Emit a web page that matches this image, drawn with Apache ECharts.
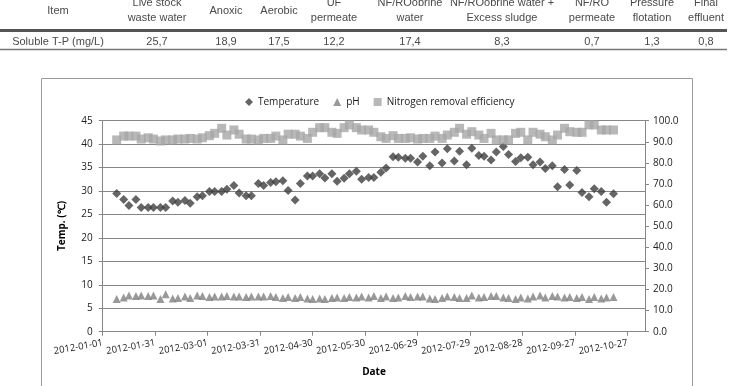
<!DOCTYPE html>
<html>
<head>
<meta charset="UTF-8" />
<title></title>
<script src="https://cdn.jsdelivr.net/npm/echarts@6/dist/echarts.min.js"></script>
<style>
  html, body { margin: 0; padding: 0; background: #fff; }
  #chart { width: 730px; height: 386px; }
</style>
</head>
<body>
<div id="chart"></div>
<script>
// table above the chart
var tableHeaders = [['Item'], ['Live stock', 'waste water'], ['Anoxic'], ['Aerobic'], ['UF', 'permeate'],
  ['NF/ROobrine', 'water'], ['NF/ROobrine water +', 'Excess sludge'], ['NF/RO', 'permeate'],
  ['Pressure', 'flotation'], ['Final', 'effluent']];
var tableRow = ['Soluble T-P (mg/L)', '25,7', '18,9', '17,5', '12,2', '17,4', '8,3', '0,7', '1,3', '0,8'];

// days after 2012-01-01
var sampleDay = [8, 12, 15, 19, 22, 26, 29, 33, 36, 40, 43, 47, 50, 54, 57, 61, 64, 68, 71, 75,
  78, 82, 85, 89, 92, 96, 99, 103, 106, 110, 113, 117, 120, 124, 127, 131, 134, 138, 141, 145,
  148, 152, 155, 159, 162, 166, 169, 173, 176, 180, 183, 187, 190, 194, 197, 201, 204, 208, 211, 215,
  218, 222, 225, 229, 232, 236, 239, 243, 246, 250, 253, 257, 260, 264, 267, 271, 274, 278, 281, 285,
  288, 292];

var temperature = [29.5, 28.2, 26.9, 28.2, 26.5, 26.5, 26.5, 26.5, 26.5, 27.9,
  27.6, 28.0, 27.4, 28.8, 29.0, 29.9, 29.9, 29.9, 30.4, 31.2,
  29.6, 29.0, 29.0, 31.6, 31.2, 31.8, 32.0, 32.2, 30.1, 28.1,
  31.6, 33.2, 33.2, 33.7, 32.8, 33.7, 32.1, 32.7, 33.7, 34.2,
  32.5, 32.9, 32.9, 34.0, 34.9, 37.3, 37.2, 37.0, 37.0, 36.2,
  37.4, 35.4, 38.3, 36.0, 39.0, 36.4, 38.5, 35.6, 39.1, 37.6,
  37.4, 36.6, 38.3, 39.5, 37.8, 36.3, 37.1, 37.2, 35.6, 36.2,
  34.8, 35.4, 30.9, 34.6, 31.3, 34.4, 29.7, 28.8, 30.5, 29.9,
  27.6, 29.4];

var ph = [7.0, 7.3, 7.7, 7.6, 7.7, 7.6, 7.7, 7.0, 8.0, 7.1,
  7.2, 7.5, 7.2, 7.7, 7.6, 7.4, 7.5, 7.5, 7.6, 7.5,
  7.5, 7.4, 7.5, 7.5, 7.5, 7.6, 7.4, 7.2, 7.4, 7.2,
  7.4, 7.1, 7.0, 7.1, 7.0, 7.2, 7.3, 7.2, 7.4, 7.3,
  7.5, 7.3, 7.6, 7.2, 7.5, 7.2, 7.3, 7.6, 7.4, 7.5,
  7.5, 7.1, 7.0, 7.2, 7.5, 7.4, 7.2, 7.2, 7.7, 7.3,
  7.4, 7.6, 7.6, 7.3, 7.2, 7.0, 7.3, 7.1, 7.5, 7.7,
  7.3, 7.6, 7.5, 7.3, 7.4, 7.2, 7.4, 7.0, 7.4, 7.1,
  7.3, 7.4];

var nitrogenRemoval = [90.9, 92.7, 92.7, 92.7, 91.3, 91.9, 91.3, 90.4, 90.9, 90.9,
  91.3, 91.3, 91.6, 91.3, 91.9, 92.9, 94.0, 96.4, 93.2, 95.6,
  93.6, 91.3, 91.3, 90.9, 91.6, 91.6, 92.7, 90.9, 93.6, 93.6,
  92.7, 91.6, 94.5, 96.7, 96.7, 94.5, 94.0, 96.7, 98.0, 96.7,
  95.6, 95.6, 94.5, 92.4, 91.6, 92.9, 91.6, 91.6, 91.9, 91.3,
  91.6, 91.6, 92.7, 91.6, 93.2, 94.5, 96.4, 93.6, 94.8, 93.2,
  91.6, 94.0, 90.9, 90.9, 90.9, 94.0, 94.5, 90.9, 94.5, 93.6,
  92.4, 90.9, 93.2, 96.4, 94.8, 94.5, 94.5, 98.0, 98.0, 95.6,
  95.6, 95.6];

var seriesNames = ['Temperature', 'pH', 'Nitrogen removal efficiency'];

var colX = [58, 157, 226, 279, 334, 410, 502, 592, 652, 706];
var tableFont = '11px "Liberation Sans", Arial, sans-serif';
var chartFont = '"Open Sans", sans-serif';

function dayLabel(d) {
  var t = new Date(Date.UTC(2012, 0, 1) + d * 86400000);
  return t.toISOString().slice(0, 10);
}
function pairs(vals) {
  var out = [];
  for (var i = 0; i < vals.length; i++) out.push([sampleDay[i], vals[i]]);
  return out;
}
function txt(s, x, y, extra) {
  var st = { text: s, x: x, y: y, font: tableFont, fill: '#4a4a4a',
    textAlign: 'center', textVerticalAlign: 'middle', align: 'center', verticalAlign: 'middle' };
  if (extra) for (var k in extra) st[k] = extra[k];
  return { type: 'text', silent: true, style: st };
}

var graphics = [];
// table lines
graphics.push({ type: 'line', shape: { x1: 0, y1: 30.5, x2: 727, y2: 30.5 }, style: { stroke: '#555', lineWidth: 3 } });
graphics.push({ type: 'line', shape: { x1: 0, y1: 49.5, x2: 727, y2: 49.5 }, style: { stroke: '#777', lineWidth: 1.5 } });
for (var c = 0; c < tableHeaders.length; c++) {
  var h = tableHeaders[c];
  if (h.length === 1) {
    graphics.push(txt(h[0], colX[c], 11));
  } else {
    graphics.push(txt(h[0], colX[c], 3));
    graphics.push(txt(h[1], colX[c], 18));
  }
  graphics.push(txt(tableRow[c], colX[c], 41.5));
}
// chart border
graphics.push({ type: 'rect', shape: { x: 41.5, y: 78.5, width: 651, height: 330 }, style: { fill: 'none', stroke: '#9a9a9a', lineWidth: 1 } });
// axis titles
graphics.push({ type: 'text', x: 62, y: 226, rotation: Math.PI / 2, silent: true,
  style: { text: 'Temp. (\u2103)', font: 'bold 10px ' + chartFont, fill: '#000',
    textAlign: 'center', textVerticalAlign: 'middle', align: 'center', verticalAlign: 'middle' } });
graphics.push({ type: 'text', silent: true,
  style: { text: 'Date', x: 374, y: 372, font: 'bold 10px ' + chartFont, fill: '#000',
    textAlign: 'center', textVerticalAlign: 'middle', align: 'center', verticalAlign: 'middle' } });

var chart = echarts.init(document.getElementById('chart'));
var axisGray = '#868686';
chart.setOption({
  animation: false,
  backgroundColor: '#fff',
  textStyle: { fontFamily: chartFont },
  graphic: { elements: graphics },
  legend: {
    left: 240, top: 92,
    itemWidth: 8, itemHeight: 8, itemGap: 14,
    textStyle: { fontSize: 10, color: '#1a1a1a', fontFamily: chartFont },
    data: [
      { name: seriesNames[0], icon: 'diamond' },
      { name: seriesNames[1], icon: 'triangle' },
      { name: seriesNames[2], icon: 'rect' }
    ]
  },
  grid: { left: 102.7, right: 85, top: 120.7, bottom: 54.3 },
  xAxis: {
    type: 'value', min: 0, max: 310, interval: 30,
    splitLine: { show: false },
    axisLine: { lineStyle: { color: axisGray } },
    axisTick: { length: 4, lineStyle: { color: axisGray } },
    axisLabel: {
      rotate: 10, margin: 11, fontSize: 9.5, color: '#222',
      showMinLabel: true, showMaxLabel: false, hideOverlap: false,
      formatter: function (v) { return v > 300 ? '' : dayLabel(v); }
    }
  },
  yAxis: [{
    type: 'value', min: 0, max: 45, interval: 5,
    axisLine: { show: true, lineStyle: { color: axisGray } },
    axisTick: { show: true, length: 4, lineStyle: { color: axisGray } },
    splitLine: { lineStyle: { color: axisGray, width: 1 } },
    axisLabel: { fontSize: 10, color: '#222', margin: 10 }
  }, {
    type: 'value', min: 0, max: 100, interval: 10, position: 'right',
    axisLine: { show: true, lineStyle: { color: axisGray } },
    axisTick: { show: true, length: 4, lineStyle: { color: axisGray } },
    splitLine: { show: false },
    axisLabel: { fontSize: 10, color: '#222', margin: 8, formatter: function (v) { return v.toFixed(1); } }
  }],
  series: [{
    name: seriesNames[0], type: 'scatter', yAxisIndex: 0,
    symbol: 'diamond', symbolSize: 9,
    itemStyle: { color: '#3f3f3f' },
    data: pairs(temperature)
  }, {
    name: seriesNames[1], type: 'scatter', yAxisIndex: 0,
    symbol: 'triangle', symbolSize: 8,
    itemStyle: { color: '#7f7f7f' },
    data: pairs(ph)
  }, {
    name: seriesNames[2], type: 'scatter', yAxisIndex: 1,
    symbol: 'rect', symbolSize: 9,
    itemStyle: { color: '#a6a6a6' },
    data: pairs(nitrogenRemoval)
  }]
});
</script>
</body>
</html>
